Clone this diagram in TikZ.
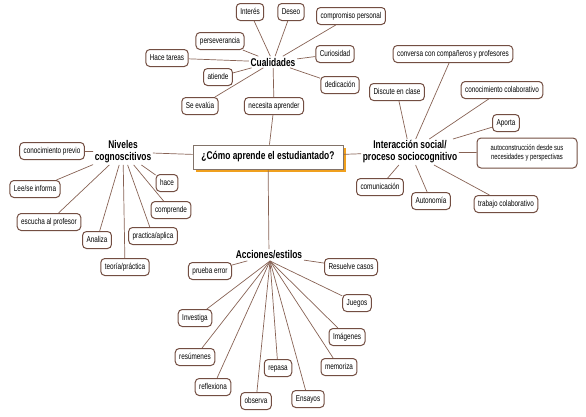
\documentclass[tikz,border=0pt]{standalone}
\usepackage{fontspec}
\setmainfont{Liberation Sans}[FakeStretch=0.75]
\usetikzlibrary{shadows}
\definecolor{boxc}{RGB}{115,78,66}
\definecolor{linec}{RGB}{135,98,84}
\definecolor{centc}{RGB}{130,115,105}
\definecolor{shadc}{RGB}{240,160,30}
\begin{document}
\begin{tikzpicture}[x=1pt,y=-1pt,
  basebox/.style={draw=boxc, line width=1pt, rounded corners=4pt, fill=white, inner xsep=4pt},
  box/.style={basebox, font=\fontsize{8.5}{9.5}\selectfont, inner ysep=0pt, text height=6.3pt, text depth=1.9pt, minimum height=17pt},
  head/.style={font=\fontsize{11.2}{12}\selectfont\bfseries, inner sep=1.5pt, align=center},
  link/.style={draw=linec, line width=0.7pt}]
\useasboundingbox (0,0) rectangle (586,416);

% central
\node[draw=centc, line width=0.9pt, fill=white, minimum width=150pt, minimum height=24pt,
  font=\fontsize{11.2}{12}\selectfont\bfseries,
  drop shadow={shadow xshift=3pt, shadow yshift=-3pt, fill=shadc, opacity=1}] (cen) at (268,157) {¿Cómo aprende el estudiantado?};

% Cualidades
\node[head] (cual) at (273,62) {Cualidades};
\node[box] (inte) at (250,12) {Interés};
\node[box] (dese) at (291,12) {Deseo};
\node[box] (comp) at (351,16) {compromiso personal};
\node[box] (pers) at (220,41) {perseverancia};
\node[box] (tare) at (167,58) {Hace tareas};
\node[box] (curi) at (335,54) {Curiosidad};
\node[box] (atie) at (218,77) {atiende};
\node[box] (dedi) at (340,85) {dedicación};
\node[box] (seev) at (200,106) {Se evalúa};
\node[box] (nece) at (274,106) {necesita aprender};

% Niveles
\node[head] (nive) at (123,152) {Niveles\\cognoscitivos};
\node[box] (cprev) at (52,151) {conocimiento previo};
\node[box] (leei) at (35,189) {Lee/se informa};
\node[box] (escu) at (49,222) {escucha al profesor};
\node[box] (anal) at (97,240) {Analiza};
\node[box] (teor) at (125,267) {teoría/práctica};
\node[box] (prac) at (153,236) {practica/aplica};
\node[box] (comr) at (171,210) {comprende};
\node[box] (hace) at (167,183) {hace};

% Interaccion
\node[head] (inter) at (410,152) {Interacción social/\\proceso sociocognitivo};
\node[box] (conv) at (453,54) {conversa con compañeros y profesores};
\node[box] (disc) at (397,92) {Discute en clase};
\node[box] (ccol) at (502,90) {conocimiento colaborativo};
\node[box] (apor) at (506,123) {Aporta};
\node[basebox, font=\fontsize{7.8}{9.2}\selectfont, align=center, minimum width=100pt, minimum height=30pt] (auto) at (527,153) {autoconstrucción desde sus\\necesidades y perspectivas};
\node[box] (comu) at (380,187) {comunicación};
\node[box] (auton) at (431,201) {Autonomía};
\node[box] (trab) at (506,204) {trabajo colaborativo};

% Acciones
\node[head] (acc) at (269,255) {Acciones/estilos};
\coordinate (accb) at (270,261);
\node[box] (prue) at (210,271) {prueba error};
\node[box] (resu) at (351,267) {Resuelve casos};
\node[box] (jueg) at (357,303) {Juegos};
\node[box] (inve) at (195,318) {Investiga};
\node[box] (imag) at (347,337) {Imágenes};
\node[box] (resm) at (195,357) {resúmenes};
\node[box] (repa) at (278,368) {repasa};
\node[box] (memo) at (339,367) {memoriza};
\node[box] (refl) at (213,387) {reflexiona};
\node[box] (obse) at (256,401) {observa};
\node[box] (ensa) at (308,399) {Ensayos};

% connectors
\foreach \n in {inte,dese,comp,pers,tare,curi,atie,dedi,seev,nece}
  \draw[link] (cual) -- (\n);
\draw[link] (nece) -- (cen);
\draw[link] (nive) -- (cen);
\foreach \n in {cprev,leei,escu,anal,teor,prac,comr,hace}
  \draw[link] (nive) -- (\n);
\draw[link] (inter) -- (cen);
\foreach \n in {conv,disc,ccol,apor,auto,comu,auton,trab}
  \draw[link] (inter) -- (\n);
\draw[link] (cen) -- (acc);
\draw[link] (acc) -- (prue);
\draw[link] (acc) -- (resu);
\foreach \n in {jueg,inve,imag,resm,repa,memo,refl,obse,ensa}
  \draw[link] (accb) -- (\n);
\end{tikzpicture}
\end{document}
